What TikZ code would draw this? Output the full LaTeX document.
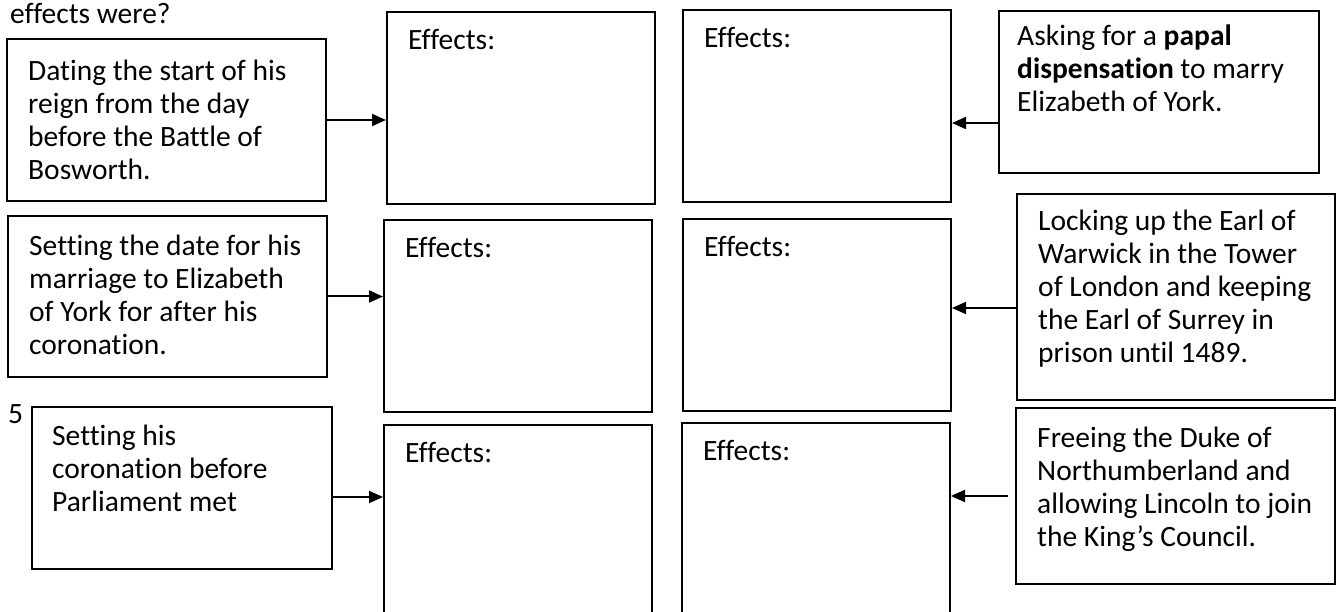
\documentclass[tikz,border=0pt]{standalone}
\usepackage{fontspec}
\setmainfont{Carlito}[Ligatures=CommonOff]
\usetikzlibrary{positioning, calc, arrows.meta}
\newcommand{\bodyfont}{\fontsize{29.5}{33}\selectfont}

\begin{document}
\begin{tikzpicture}[x=1pt, y=-1pt,
box/.style={rectangle, draw=black, line width=2pt, anchor=north west, inner sep=0pt},
effect/.style={box, minimum width=268pt, minimum height=192pt},
txt/.style={anchor=north west, inner sep=0pt, align=left, font=\bodyfont, yshift=23.1pt},
arr/.style={-{Triangle[length=14pt, width=12pt]}, line width=2pt}]
\clip (0,0) rectangle (1341,612);
\node (q) [txt] at (10,23) {\strut effects were?};
\node (n5) [txt] at (8,423) {\strut 5};

% causes on the left
\node (L1) [box, minimum width=319pt, minimum height=162pt] at (6,38) {};
\node (L2) [box, minimum width=319pt, minimum height=161pt] at (7,215) {};
\node (L3) [box, minimum width=300pt, minimum height=162pt] at (31,406) {};
\node (L1t) [txt] at ([shift={(22,42)}]L1.north west) {\strut Dating the start of his\\reign from the day\\before the Battle of\\Bosworth.};
\node (L2t) [txt] at ([shift={(22,40)}]L2.north west) {\strut Setting the date for his\\marriage to Elizabeth\\of York for after his\\coronation.};
\node (L3t) [txt] at ([shift={(21,39)}]L3.north west) {\strut Setting his\\coronation before\\Parliament met};

% effects boxes
\node (E1) [effect] at (386,11) {};
\node (E2) [effect] at (383,219) {};
\node (E3) [effect, minimum height=240pt] at (383,424) {};
\node (F1) [effect] at (682,9) {};
\node (F2) [effect] at (682,218) {};
\node (F3) [effect, minimum height=240pt] at (681,422) {};
\foreach \e in {E1,E2,E3,F1,F2,F3}
  \node (\e t) [txt] at ([shift={(22,38)}]\e.north west) {\strut Effects:};

% causes on the right
\node (R1) [box, minimum width=320pt, minimum height=162pt] at (998,10) {};
\node (R2) [box, minimum width=318pt, minimum height=206pt] at (1016,193) {};
\node (R3) [box, minimum width=319pt, minimum height=176pt] at (1015,407) {};
\node (R1t) [txt] at ([shift={(19,35)}]R1.north west) {\strut Asking for a \textbf{papal}\\\textbf{dispensation} to marry\\Elizabeth of York.};
\node (R2t) [txt] at ([shift={(22,37)}]R2.north west) {\strut Locking up the Earl of\\Warwick in the Tower\\of London and keeping\\the Earl of Surrey in\\prison until 1489.};
\node (R3t) [txt] at ([shift={(22,40)}]R3.north west) {\strut Freeing the Duke of\\Northumberland and\\allowing Lincoln to join\\the King’s Council.};

% arrows
\coordinate (a3) at ([yshift=-9pt]L3.east);
\coordinate (b1) at ([yshift=-31pt]R1.west);
\coordinate (b2) at ([yshift=-11pt]R2.west);
\draw [arr] (L1.east) -- (L1.east -| E1.west);
\draw [arr] (L2.east) -- (L2.east -| E2.west);
\draw [arr] (a3) -- (a3 -| E3.west);
\draw [arr] (b1) -- (b1 -| F1.east);
\draw [arr] (b2) -- (b2 -| F2.east);
\draw [arr, shorten <=7pt] (R3.west) -- (R3.west -| F3.east);
\end{tikzpicture}
\end{document}
